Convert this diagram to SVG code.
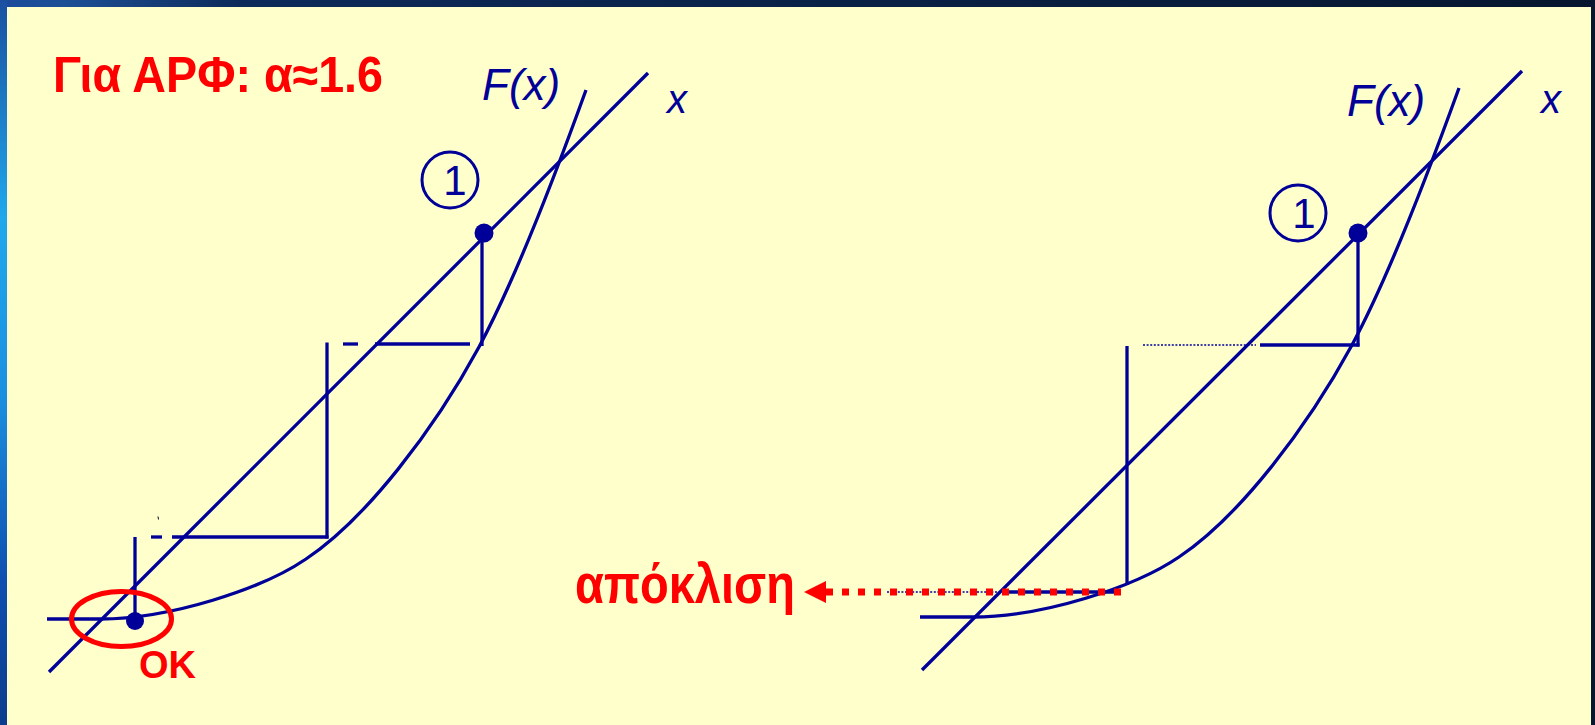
<svg xmlns="http://www.w3.org/2000/svg" width="1595" height="725" viewBox="0 0 1595 725">
  <defs>
    <linearGradient id="topbar" x1="0" y1="0" x2="1" y2="0">
      <stop offset="0" stop-color="#1a4a9a"/>
      <stop offset="0.04" stop-color="#1d4f96"/>
      <stop offset="0.15" stop-color="#0d2a5a"/>
      <stop offset="1" stop-color="#07162e"/>
    </linearGradient>
    <linearGradient id="leftbar" x1="0" y1="0" x2="0" y2="1">
      <stop offset="0" stop-color="#1a4fa0"/>
      <stop offset="0.3" stop-color="#1fa8ec"/>
      <stop offset="0.55" stop-color="#1a8fe0"/>
      <stop offset="0.8" stop-color="#0e4fb0"/>
      <stop offset="1" stop-color="#0c3d8c"/>
    </linearGradient>
    <marker id="redhead" viewBox="0 0 22 22" markerWidth="22" markerHeight="22" refX="0" refY="11" orient="auto" markerUnits="userSpaceOnUse">
      <path d="M0,0 L22,11 L0,22 Z" fill="#ff0000"/>
    </marker>
    <path id="fcurve" d="M47,619 L100,619 C170,619 262,589 306,559 C366,519 434,430 479,347 C514,282 556,173 586,90"/>
  </defs>
  <style>
    .ln { stroke: #000099; stroke-width: 3.3; fill: none; }
    .thin { stroke: #000099; stroke-width: 1.6; fill: none; stroke-dasharray: 2 1.6; }
    .dot { fill: #000099; }
    .circ { stroke: #000099; stroke-width: 3; fill: none; }
    .lbl { font-family: "Liberation Sans", Arial, sans-serif; fill: #000099; font-style: italic; }
    .num { font-family: "Liberation Sans", Arial, sans-serif; fill: #000099; font-size: 42px; text-anchor: middle; }
    .red { font-family: "Liberation Sans", Arial, sans-serif; fill: #ff0000; font-weight: bold; }
  </style>

  <!-- background frame -->
  <rect x="0" y="0" width="1595" height="725" fill="#07162e"/>
  <rect x="0" y="0" width="1595" height="7" fill="url(#topbar)"/>
  <rect x="0" y="0" width="7" height="725" fill="url(#leftbar)"/>
  <rect x="7" y="7" width="1584" height="718" fill="#ffffcc"/>

  <!-- title -->
  <g id="title">
    <text class="red" x="53" y="92" font-size="50" textLength="330" lengthAdjust="spacingAndGlyphs">Για ΑΡΦ: α≈1.6</text>
  </g>

  <!-- LEFT DIAGRAM -->
  <g id="left-axis-x">
    <line class="ln" x1="49" y1="672" x2="648" y2="73"/>
    <text class="lbl" x="667" y="113" font-size="40">x</text>
  </g>
  <g id="left-curve-F">
    <use href="#fcurve" class="ln"/>
    <text class="lbl" x="482" y="100" font-size="44">F(x)</text>
  </g>
  <g id="left-point-1">
    <circle class="dot" cx="484" cy="233" r="9.5"/>
    <circle class="circ" cx="450" cy="180" r="28"/>
    <text class="num" x="455" y="195">1</text>
  </g>
  <g id="left-steps">
    <line class="ln" x1="482" y1="233" x2="482" y2="346"/>
    <line class="ln" x1="375" y1="344" x2="470" y2="344"/>
    <line class="ln" x1="343" y1="344" x2="358" y2="344"/>
    <line class="ln" x1="327" y1="342.5" x2="327" y2="538.5"/>
    <line class="ln" x1="172" y1="537" x2="328.5" y2="537"/>
    <line class="ln" x1="151" y1="537" x2="162" y2="537"/>
    <line class="ln" x1="135" y1="537" x2="135" y2="621"/>
    <line stroke="#000033" stroke-width="1" x1="158" y1="516.5" x2="158.5" y2="519.5"/>
  </g>
  <g id="left-point-final">
    <circle class="dot" cx="135" cy="621" r="9"/>
    <ellipse cx="121.5" cy="619" rx="50" ry="27.5" fill="none" stroke="#ff0000" stroke-width="5"/>
    <text class="red" x="139" y="678" font-size="38">OK</text>
  </g>

  <!-- RIGHT DIAGRAM -->
  <g id="right-axis-x">
    <line class="ln" x1="922" y1="670" x2="1522" y2="71"/>
    <text class="lbl" x="1541" y="113" font-size="40">x</text>
  </g>
  <g id="right-curve-F">
    <use href="#fcurve" class="ln" transform="translate(873,-2)"/>
    <text class="lbl" x="1347" y="116" font-size="44">F(x)</text>
  </g>
  <g id="right-point-1">
    <circle class="dot" cx="1358" cy="233" r="9.5"/>
    <circle class="circ" cx="1298" cy="213" r="28"/>
    <text class="num" x="1304" y="228">1</text>
  </g>
  <g id="right-steps">
    <line class="ln" x1="1358" y1="233" x2="1358" y2="346.5"/>
    <line class="ln" x1="1260" y1="345" x2="1359.5" y2="345"/>
    <line class="thin" x1="1143" y1="345" x2="1256" y2="345"/>
    <line class="ln" x1="1127" y1="346" x2="1127" y2="585"/>
    <line class="ln" x1="1005" y1="592" x2="1118" y2="592"/>
    <line class="thin" x1="887" y1="592" x2="1005" y2="592"/>
  </g>

  <!-- connector: deviation arrow -->
  <g id="connectors">
    <line x1="1121" y1="592" x2="826" y2="592" stroke="#ff0000" stroke-width="7" stroke-dasharray="7 9" marker-end="url(#redhead)"/>
  </g>
  <g id="label-deviation">
    <text class="red" x="575" y="603" font-size="55" textLength="220" lengthAdjust="spacingAndGlyphs">απόκλιση</text>
  </g>
</svg>
